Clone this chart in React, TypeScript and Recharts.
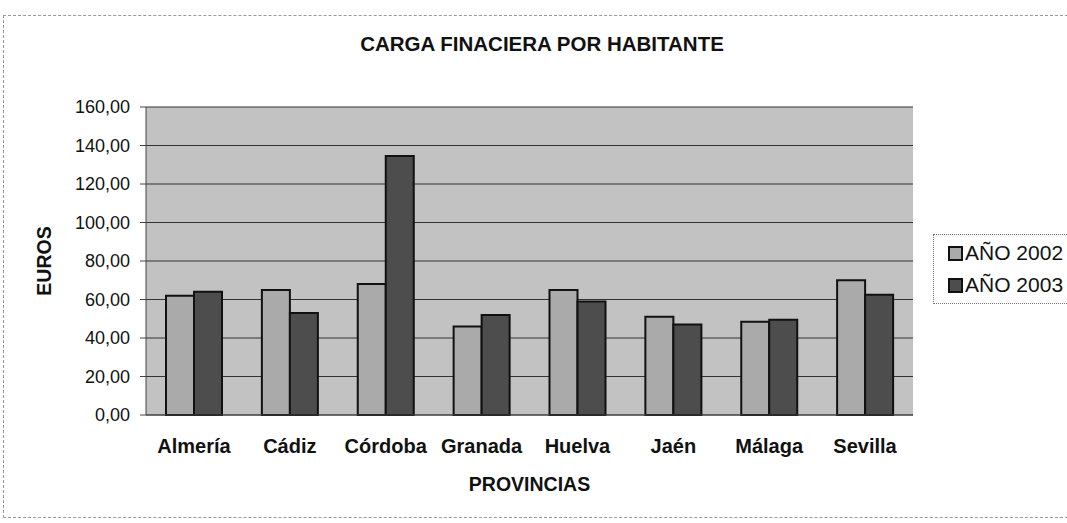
import React from "react";
import { BarChart, Bar, XAxis, YAxis, CartesianGrid } from "recharts";

const provincias = ["Almería", "Cádiz", "Córdoba", "Granada", "Huelva", "Jaén", "Málaga", "Sevilla"];
const ano2002 = [62, 65, 68, 46, 65, 51, 48.5, 70];
const ano2003 = [64, 53, 134.5, 52, 59, 47, 49.5, 62.5];
const yTicks = [0, 20, 40, 60, 80, 100, 120, 140, 160];
const seriesNames = ["AÑO 2002", "AÑO 2003"];
const seriesColors = ["#aaaaaa", "#4d4d4d"];

const data = provincias.map((p, i) => ({ name: p, a2002: ano2002[i], a2003: ano2003[i] }));

const FONT = "'Liberation Sans', Arial, sans-serif";

const fmt = (v: number) => v.toFixed(2).replace(".", ",");

const LegendBox = () => (
  <div
    style={{
      position: "absolute",
      left: 933,
      top: 234,
      border: "1px dotted #777",
      padding: "2px 6px 2px 14px",
      background: "#fff",
      fontFamily: FONT,
      fontSize: 21,
      color: "#111",
      width: 118,
    }}
  >
    {seriesNames.map((n, i) => (
      <div key={n} style={{ display: "flex", alignItems: "center", height: 32 }}>
        <span
          style={{
            display: "inline-block",
            width: 11,
            height: 11,
            background: seriesColors[i],
            border: "2px solid #111",
            marginRight: 2,
          }}
        />
        <span>{n}</span>
      </div>
    ))}
  </div>
);

export default function App() {
  return (
    <div style={{ position: "absolute", left: 0, top: 0, width: 1067, height: 523, background: "#fff" }}>
      <div
        style={{
          position: "absolute",
          left: 3,
          top: 15,
          width: 1070,
          height: 503,
          border: "1px dashed #999",
          boxSizing: "border-box",
        }}
      />
      <div
        style={{
          position: "absolute",
          left: 0,
          top: 32,
          width: 1084,
          textAlign: "center",
          fontFamily: FONT,
          fontWeight: "bold",
          fontSize: 20.5,
          color: "#111",
        }}
      >
        CARGA FINACIERA POR HABITANTE
      </div>
      <BarChart
        width={1067}
        height={523}
        data={data}
        margin={{ top: 107, right: 154, bottom: 48, left: 0 }}
        barCategoryGap={20}
        barGap={0}
        style={{ position: "absolute", left: 0, top: 0 }}
      >
        <CartesianGrid vertical={false} stroke="#333" fill="#c2c2c2" />
        <XAxis
          dataKey="name"
          height={60}
          tickLine={false}
          tickSize={0}
          tickMargin={24}
          axisLine={{ stroke: "#444" }}
          tick={{ fontFamily: FONT, fontSize: 20, fontWeight: "bold", fill: "#111" }}
          interval={0}
          label={{
            value: "PROVINCIAS",
            position: "insideBottom",
            offset: -16,
            style: { fontFamily: FONT, fontSize: 19.5, fontWeight: "bold", fill: "#111" },
          }}
        />
        <YAxis
          width={146}
          domain={[0, 160]}
          ticks={yTicks}
          tickFormatter={fmt}
          tickSize={6}
          tickMargin={10}
          axisLine={{ stroke: "#444" }}
          tickLine={{ stroke: "#444" }}
          tick={{ fontFamily: FONT, fontSize: 18, fill: "#111" }}
          interval={0}
          label={{
            value: "EUROS",
            angle: -90,
            position: "insideLeft",
            offset: 44,
            style: { fontFamily: FONT, fontSize: 19.5, fontWeight: "bold", fill: "#111", textAnchor: "middle" },
          }}
        />
        <YAxis
          yAxisId="right"
          orientation="right"
          width={0}
          domain={[0, 160]}
          tick={false}
          tickLine={false}
          axisLine={{ stroke: "#666" }}
        />
        <Bar dataKey="a2002" name={seriesNames[0]} barSize={28} fill={seriesColors[0]} stroke="#111" strokeWidth={2} isAnimationActive={false} />
        <Bar dataKey="a2003" name={seriesNames[1]} barSize={28} fill={seriesColors[1]} stroke="#111" strokeWidth={2} isAnimationActive={false} />
      </BarChart>
      <LegendBox />
    </div>
  );
}
